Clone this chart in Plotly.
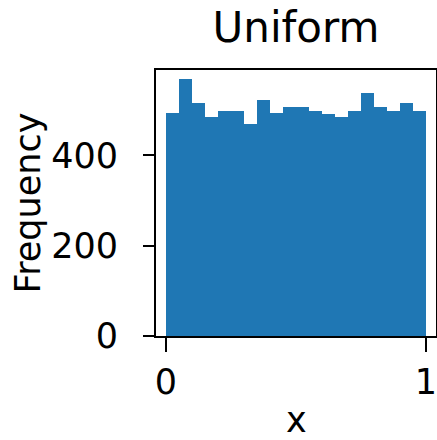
import numpy as np
import plotly.graph_objects as go

# Histogram of a uniform sample: 20 equal bins on [0, 1]
bin_edges = np.linspace(0.0, 1.0, 21)
counts = [494, 569, 516, 484, 499, 499, 469, 523, 494, 507,
          507, 499, 492, 484, 499, 538, 508, 499, 516, 499]
x_ticks = [0, 1]
y_ticks = [0, 200, 400]
title_text = "Uniform"
x_label = "x"
y_label = "Frequency"

centers = (bin_edges[:-1] + bin_edges[1:]) / 2
widths = np.diff(bin_edges)

FONT = "DejaVu Sans"

fig = go.Figure(go.Bar(
    x=centers, y=counts, width=widths,
    marker=dict(color="#1f77b4", line=dict(width=0)),
))

fig.update_layout(
    width=437, height=440,
    margin=dict(l=156, r=1, t=70, b=104, autoexpand=False),
    paper_bgcolor="white", plot_bgcolor="white",
    bargap=0, showlegend=False,
    font=dict(family=FONT, color="black", size=35),
    title=dict(text=title_text, x=0.5, xanchor="center", xref="paper",
               y=1, yref="paper", yanchor="bottom", pad=dict(b=28),
               font=dict(family=FONT, size=42, color="black")),
)

# x-axis label as an annotation so it can sit near the bottom edge
fig.add_annotation(
    text=x_label, xref="paper", yref="paper", x=0.5, y=0,
    xanchor="center", yanchor="top", yshift=-63, showarrow=False,
    borderpad=0, font=dict(family=FONT, size=35, color="black"),
)

fig.update_xaxes(
    range=[-10/260, 1 + 10/260],
    tickvals=x_ticks, ticktext=[str(v) for v in x_ticks],
    ticks="outside", ticklen=14, tickwidth=2, tickcolor="black",
    ticklabeloverflow="allow",
    showline=True, linewidth=2, linecolor="black", mirror=True,
    showgrid=False, zeroline=False, automargin=False,
    tickfont=dict(family=FONT, size=35, color="black"),
)
fig.update_yaxes(
    range=[0, 589],
    tickvals=y_ticks, ticktext=[str(v) for v in y_ticks],
    ticks="outside", ticklen=11, tickwidth=2, tickcolor="black",
    ticklabelstandoff=18, ticklabeloverflow="allow",
    showline=True, linewidth=2, linecolor="black", mirror=True,
    showgrid=False, zeroline=False, automargin=False,
    tickfont=dict(family=FONT, size=35, color="black"),
    title=dict(text=y_label, standoff=0, font=dict(family=FONT, size=35, color="black")),
)

fig.write_html("out.html")
